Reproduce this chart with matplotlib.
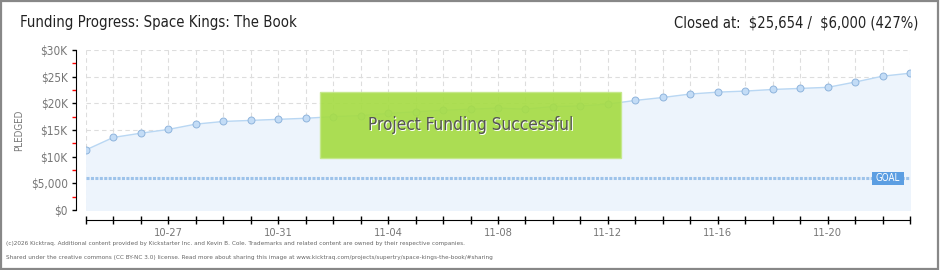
import numpy as np
import matplotlib.pyplot as plt
from matplotlib.patches import Rectangle
from matplotlib.ticker import FixedLocator
from matplotlib.transforms import offset_copy

# daily pledged totals, 10-24 .. 11-23
days = list(range(31))
pledged = [11250, 13600, 14400, 15100, 16100, 16600, 16800, 17000, 17200, 17500,
           17700, 18100, 18400, 18700, 18900, 19100, 18900, 19400, 19500, 19850,
           20550, 21100, 21750, 22100, 22300, 22600, 22800, 23000, 24000, 25100, 25654]
goal = 6000
date_ticks = [3, 7, 11, 15, 19, 23, 27]
date_labels = ['10-27', '10-31', '11-04', '11-08', '11-12', '11-16', '11-20']
y_ticks = [0, 5000, 10000, 15000, 20000, 25000, 30000]
y_labels = ['$0', '$5,000', '$10K', '$15K', '$20K', '$25K', '$30K']

plt.rcParams['font.family'] = 'DejaVu Sans'
plt.rcParams['font.stretch'] = 'condensed'
grey = '#777777'

fig = plt.figure(figsize=(9.4, 2.7), dpi=100)
fig.patch.set_facecolor('white')
fig.patches.append(Rectangle((0.001, 0.002), 0.997, 0.995, transform=fig.transFigure,
                             fill=False, edgecolor='#888888', lw=1.6))

ax = fig.add_axes([85.7 / 940, 60 / 270, 824.6 / 940, 160 / 270])
ax.set_xlim(0, 30)
ax.set_ylim(0, 30000)

# grid
for d in days:
    ax.axvline(d, color='#dddddd', lw=0.8, ls=(0, (4, 3)), zorder=0)
for v in y_ticks:
    ax.axhline(v, color='#dddddd', lw=0.8, ls=(0, (4, 3)), zorder=0)

ax.fill_between(days, pledged, 0, color='#edf4fc', zorder=1)
ax.plot(days, pledged, color='#b9d7f3', lw=1, zorder=3)
ax.plot(days, pledged, 'o', ms=5, mfc='#c3dcf6', mec='#8fb4dc', mew=0.7, zorder=4)

# goal line
ax.plot([0, 30], [goal, goal], color='#9ec3ea', lw=2.2, dashes=(1, 0.45), zorder=2)
ax.add_patch(Rectangle((28.6, 4690), 1.17, 2490, facecolor='#5c9ee2', edgecolor='none', zorder=5))
ax.text(29.18, 5950, 'GOAL', color='white', fontsize=7, ha='center', va='center', zorder=6)

# success box
ax.add_patch(Rectangle((8.52, 9700), 10.94, 12370, facecolor='#a6dc45', alpha=0.92,
                       edgecolor='#c4e88a', lw=1, zorder=7))
shadow = offset_copy(ax.transData, fig=fig, x=0.8, y=-0.8, units='points')
ax.text(13.99, 15900, 'Project Funding Successful', fontsize=12.3, color='white',
        ha='center', va='center', zorder=8, transform=shadow)
ax.text(13.99, 15900, 'Project Funding Successful', fontsize=12.3, color='#555555',
        ha='center', va='center', zorder=9)

# axes styling
for s in ['top', 'right']:
    ax.spines[s].set_visible(False)
ax.spines['left'].set_position(('outward', 7))
ax.spines['bottom'].set_position(('outward', 7))
ax.set_yticks(y_ticks)
ax.set_yticklabels(y_labels, color=grey, fontsize=8.5)
ax.yaxis.set_minor_locator(FixedLocator([2500, 7500, 12500, 17500, 22500, 27500]))
ax.tick_params(axis='y', which='major', length=3, width=1, color='black', pad=3)
ax.tick_params(axis='y', which='minor', length=3, width=1, color='red')
ax.xaxis.set_major_locator(FixedLocator(date_ticks))
ax.xaxis.set_minor_locator(FixedLocator(days))
ax.set_xticklabels(date_labels, color=grey, fontsize=8)
ax.tick_params(axis='x', which='both', direction='inout', length=6, width=1, color='black', pad=3)
ax.set_ylabel('PLEDGED', fontsize=7, color=grey)
ax.yaxis.set_label_coords(-62 / 824.6, 0.5)

# header and footer
fig.text(20 / 940, 1 - 23 / 270, 'Funding Progress: Space Kings: The Book', fontsize=10.7,
         color='#222222', va='center')
fig.text(918 / 940, 1 - 23 / 270, 'Closed at:  \\$25,654 /  \\$6,000 (427%)', fontsize=10.5,
         color='#222222', va='center', ha='right')
fig.text(6 / 940, 1 - 243 / 270,
         '(c)2026 Kicktraq. Additional content provided by Kickstarter Inc. and Kevin B. Cole. '
         'Trademarks and related content are owned by their respective companies.',
         fontsize=4.6, color='#666666', va='center')
fig.text(6 / 940, 1 - 257 / 270,
         'Shared under the creative commons (CC BY-NC 3.0) license. Read more about sharing this '
         'image at www.kicktraq.com/projects/supertry/space-kings-the-book/#sharing',
         fontsize=4.6, color='#666666', va='center')

fig.savefig('out.png', dpi=100)
